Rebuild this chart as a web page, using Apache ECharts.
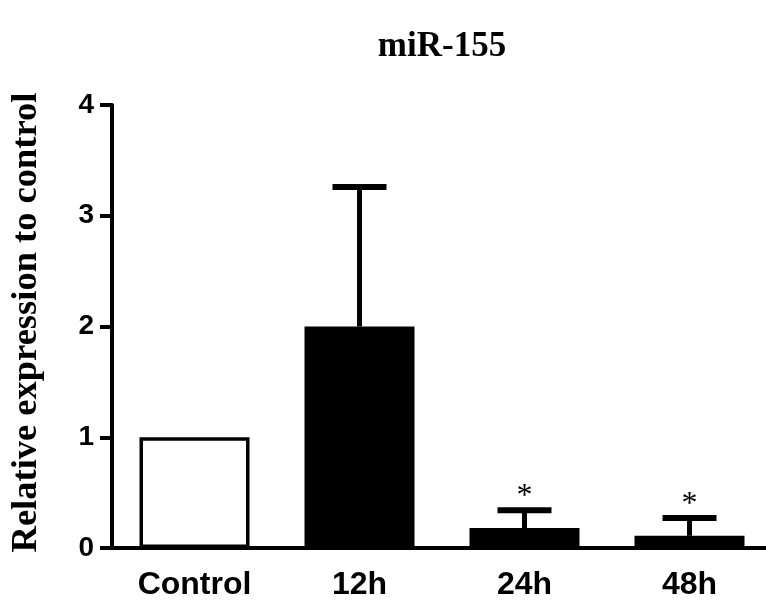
<!DOCTYPE html>
<html>
<head>
<meta charset="utf-8">
<script src="https://cdn.jsdelivr.net/npm/echarts@6/dist/echarts.min.js"></script>
<style>
  html, body { margin: 0; padding: 0; background: #fff; overflow: hidden; }
  /* the x axis runs a few pixels past the right edge in the original */
  #chart { width: 772px; height: 601px; }
</style>
</head>
<body>
<div id="chart"></div>
<script>
// values
var categories = ['Control', '12h', '24h', '48h'];
var means = [1.0, 2.0, 0.18, 0.11];
var errors = [0, 1.26, 0.16, 0.16];
var marks = ['', '', '*', '*'];
var yTicks = [0, 1, 2, 3, 4];

var barColors = ['#fff', '#000', '#000', '#000'];

var barData = means.map(function (v, i) {
    return {value: v, itemStyle: {color: barColors[i]}};
});
var errData = means.map(function (v, i) {
    return [i, v, v + errors[i], i];
});

function renderErr(params, api) {
    var x = api.value(0);
    var base = api.coord([x, api.value(1)]);
    var hi = api.coord([x, api.value(2)]);
    var mark = marks[api.value(3)];
    var half = 27;
    var children = [];
    if (api.value(2) > api.value(1)) {
        children.push({
            type: 'line',
            shape: {x1: base[0], y1: base[1], x2: hi[0], y2: hi[1]},
            style: {stroke: '#000', lineWidth: 5}
        });
        children.push({
            type: 'line',
            shape: {x1: hi[0] - half, y1: hi[1], x2: hi[0] + half, y2: hi[1]},
            style: {stroke: '#000', lineWidth: 6}
        });
    }
    if (mark) {
        children.push({
            type: 'text',
            x: hi[0],
            y: hi[1] - 14,
            style: {
                text: mark, fill: '#000', align: 'center', verticalAlign: 'middle',
                font: '32px "Liberation Serif", "DejaVu Serif", serif'
            }
        });
    }
    return {type: 'group', children: children};
}

var chart = echarts.init(document.getElementById('chart'));
chart.setOption({
    backgroundColor: '#fff',
    animation: false,
    title: {
        text: 'miR-155',
        left: 437,
        top: 24,
        textAlign: 'center',
        textStyle: {
            fontFamily: '"Liberation Serif", "DejaVu Serif", serif',
            fontWeight: 'bold', fontSize: 35, color: '#000'
        }
    },
    grid: {left: 111, top: 105, right: 0, bottom: 53},
    xAxis: {
        type: 'category',
        data: categories,
        axisLine: {lineStyle: {color: '#000', width: 4}},
        axisTick: {alignWithLabel: true, length: 11, lineStyle: {color: '#000', width: 4}},
        axisLabel: {
            margin: 21, color: '#000', fontSize: 32, fontWeight: 'bold',
            fontFamily: '"Liberation Sans", Arial, sans-serif'
        }
    },
    yAxis: {
        type: 'value',
        min: yTicks[0],
        max: yTicks[yTicks.length - 1],
        interval: 1,
        name: 'Relative expression to control',
        nameLocation: 'middle',
        nameGap: 67,
        nameTextStyle: {
            fontFamily: '"Liberation Serif", "DejaVu Serif", serif',
            fontWeight: 'bold', fontSize: 36.5, color: '#000',
            padding: [0, 0, 0, 8]
        },
        axisLine: {show: true, lineStyle: {color: '#000', width: 4}},
        axisTick: {show: true, length: 12, lineStyle: {color: '#000', width: 4}},
        splitLine: {show: false},
        axisLabel: {
            margin: 18, color: '#000', fontSize: 28, fontWeight: 'bold',
            fontFamily: '"Liberation Sans", Arial, sans-serif'
        }
    },
    series: [
        {
            type: 'bar',
            data: barData,
            barWidth: 110,
            itemStyle: {borderColor: '#000', borderWidth: 3.5}
        },
        {
            type: 'custom',
            data: errData,
            renderItem: renderErr,
            z: 5
        }
    ]
});
</script>
</body>
</html>
